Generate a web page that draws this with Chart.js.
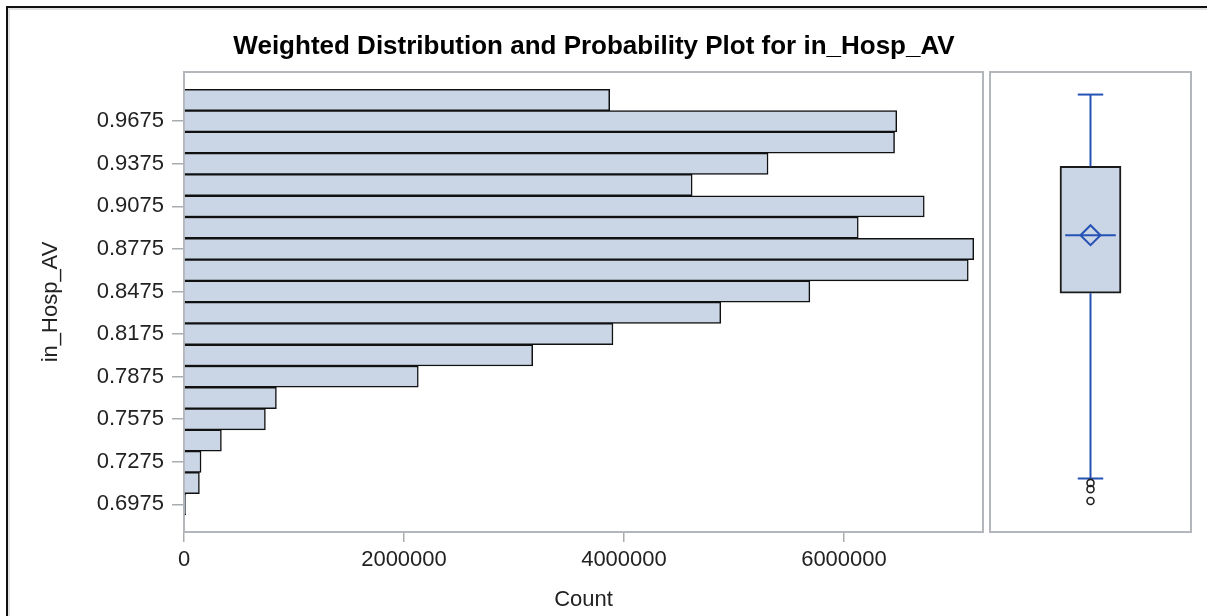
<!DOCTYPE html>
<html>
<head>
<meta charset="utf-8">
<script src="https://cdn.jsdelivr.net/npm/chart.js@4.4.1/dist/chart.umd.min.js"></script>
<style>
  body { margin: 0; background: #fff; }
  #wrap { position: relative; width: 1207px; height: 616px; overflow: hidden; }
  #frame { position: absolute; left: 6px; top: 6px; width: 1400px; height: 800px;
           border-left: 2px solid #111; border-top: 2px solid #111;
           box-shadow: inset 2px 2px 0 #e2e2e2; }
  #histCanvas { position: absolute; left: 0; top: 0; }
  #boxCanvas { position: absolute; left: 985px; top: 0; }
</style>
</head>
<body>
<div id="wrap">
  <div id="frame"></div>
  <canvas id="histCanvas" width="1188" height="616"></canvas>
  <canvas id="boxCanvas" width="215" height="616"></canvas>
</div>
<script>
// Histogram bins (midpoints) and weighted counts
const binMidpoints = [0.9825, 0.9675, 0.9525, 0.9375, 0.9225, 0.9075, 0.8925, 0.8775, 0.8625, 0.8475,
                      0.8325, 0.8175, 0.8025, 0.7875, 0.7725, 0.7575, 0.7425, 0.7275, 0.7125, 0.6975];
const binCounts = [3870000, 6480000, 6460000, 5310000, 4620000, 6730000, 6130000, 7180000, 7130000, 5690000,
                   4880000, 3900000, 3170000, 2130000, 840000, 740000, 340000, 155000, 140000, 15000];

// Tick labels
const yTickValues = [0.9675, 0.9375, 0.9075, 0.8775, 0.8475, 0.8175, 0.7875, 0.7575, 0.7275, 0.6975];
const xTickValues = [0, 2000000, 4000000, 6000000];

// Box plot: low whisker, Q1, median, Q3, high whisker
const boxStats = [0.7157, 0.8463, 0.8872, 0.9357, 0.9863];
const boxMean = [0.8872];
const boxOutliers = [0.7126, 0.7082, 0.6999];

const Y_MIN = 0.678, Y_MAX = 1.0022;
const FILL = '#cad5e5';
const BLUE = '#2552b4';
const FONT = 'Liberation Sans, Arial, sans-serif';

// draws the grey frame round each panel
const panelFrame = {
  id: 'panelFrame',
  beforeDatasetsDraw(chart) {
    const a = chart.chartArea, ctx = chart.ctx;
    ctx.save();
    ctx.strokeStyle = '#b3b7bc';
    ctx.lineWidth = 2;
    ctx.strokeRect(a.left, a.top, a.right - a.left, a.bottom - a.top);
    ctx.restore();
  }
};

new Chart(document.getElementById('histCanvas'), {
  type: 'bar',
  data: {
    datasets: [{
      data: binMidpoints.map((m, i) => ({ x: binCounts[i], y: m })),
      backgroundColor: FILL,
      borderColor: '#111',
      borderWidth: 1.5,
      barPercentage: 1,
      categoryPercentage: 1,
    }],
  },
  options: {
    responsive: false,
    animation: false,
    indexAxis: 'y',
    layout: { padding: 0, autoPadding: false },
    plugins: {
      legend: { display: false },
      tooltip: { enabled: false },
      title: {
        display: true,
        text: 'Weighted Distribution and Probability Plot for in_Hosp_AV',
        color: '#000',
        font: { family: FONT, size: 26, weight: 'bold' },
        padding: { top: 31.4, bottom: 9.4 },
      },
    },
    scales: {
      y: {
        type: 'linear',
        offset: false,
        min: Y_MIN,
        max: Y_MAX,
        afterBuildTicks: (s) => { s.ticks = yTickValues.map(v => ({ value: v })); },
        afterFit: (s) => { s.width = 184; },
        grid: { drawOnChartArea: false, offset: false, color: '#a8acb0', tickLength: 12, lineWidth: 1.5 },
        border: { display: false },
        ticks: { color: '#222', padding: 8, font: { family: FONT, size: 22 },
                 callback: (v) => v.toFixed(4) },
        title: { display: true, text: 'in_Hosp_AV', color: '#222',
                 font: { family: FONT, size: 22 }, padding: { top: 38 } },
      },
      // spare room on the right for the box plot panel
      yRight: {
        type: 'linear',
        position: 'right',
        afterFit: (s) => { s.width = 205; },
        grid: { display: false },
        border: { display: false },
        ticks: { display: false },
      },
      x: {
        type: 'linear',
        min: 0,
        max: 7264000,
        afterBuildTicks: (s) => { s.ticks = xTickValues.map(v => ({ value: v })); },
        afterFit: (s) => { s.height = 84; },
        grid: { drawOnChartArea: false, color: '#a8acb0', tickLength: 10, lineWidth: 1.5 },
        border: { display: false },
        ticks: { color: '#222', padding: 5, maxRotation: 0, font: { family: FONT, size: 22 },
                 callback: (v) => String(v) },
        title: { display: true, text: 'Count', color: '#222',
                 font: { family: FONT, size: 22 }, padding: { bottom: 3 } },
      },
    },
  },
  plugins: [panelFrame],
});

const cx = 0.5, capHalf = 0.076, boxHalf = 0.151;

new Chart(document.getElementById('boxCanvas'), {
  type: 'scatter',
  data: {
    datasets: [
      { // upper whisker
        data: [{ x: cx, y: boxStats[3] }, { x: cx, y: boxStats[4] }],
        showLine: true, borderColor: BLUE, borderWidth: 2, pointRadius: 0, order: 1 },
      { // upper cap
        data: [{ x: cx - capHalf, y: boxStats[4] }, { x: cx + capHalf, y: boxStats[4] }],
        showLine: true, borderColor: BLUE, borderWidth: 2, pointRadius: 0, order: 1 },
      { // lower whisker
        data: [{ x: cx, y: boxStats[1] }, { x: cx, y: boxStats[0] }],
        showLine: true, borderColor: BLUE, borderWidth: 2, pointRadius: 0, order: 1 },
      { // lower cap
        data: [{ x: cx - capHalf, y: boxStats[0] }, { x: cx + capHalf, y: boxStats[0] }],
        showLine: true, borderColor: BLUE, borderWidth: 2, pointRadius: 0, order: 1 },
      { // median
        data: [{ x: cx - boxHalf, y: boxStats[2] }, { x: cx + boxHalf, y: boxStats[2] }],
        showLine: true, borderColor: BLUE, borderWidth: 2, pointRadius: 0, order: 1 },
      { // mean
        data: boxMean.map(v => ({ x: cx, y: v })),
        pointStyle: 'rectRot', pointRadius: 10, borderColor: BLUE, borderWidth: 2,
        backgroundColor: 'rgba(0,0,0,0)', order: 0 },
      { // outliers
        data: boxOutliers.map(v => ({ x: cx, y: v })),
        pointStyle: 'circle', pointRadius: 3.5, borderColor: '#222', borderWidth: 1.6,
        backgroundColor: 'rgba(0,0,0,0)', order: 0 },
      { // box
        type: 'bar',
        data: [{ x: cx, y: [boxStats[1], boxStats[3]] }],
        backgroundColor: FILL, borderColor: '#1a1a1a', borderWidth: 2,
        borderSkipped: false, barThickness: 61, order: 5 },
    ],
  },
  options: {
    responsive: false,
    animation: false,
    layout: { padding: { left: 5, right: 9, top: 72, bottom: 84 }, autoPadding: false },
    plugins: { legend: { display: false }, tooltip: { enabled: false } },
    scales: {
      x: { type: 'linear', min: 0, max: 1, display: false },
      y: { type: 'linear', min: Y_MIN, max: Y_MAX, display: false },
    },
  },
  plugins: [panelFrame],
});
</script>
</body>
</html>
